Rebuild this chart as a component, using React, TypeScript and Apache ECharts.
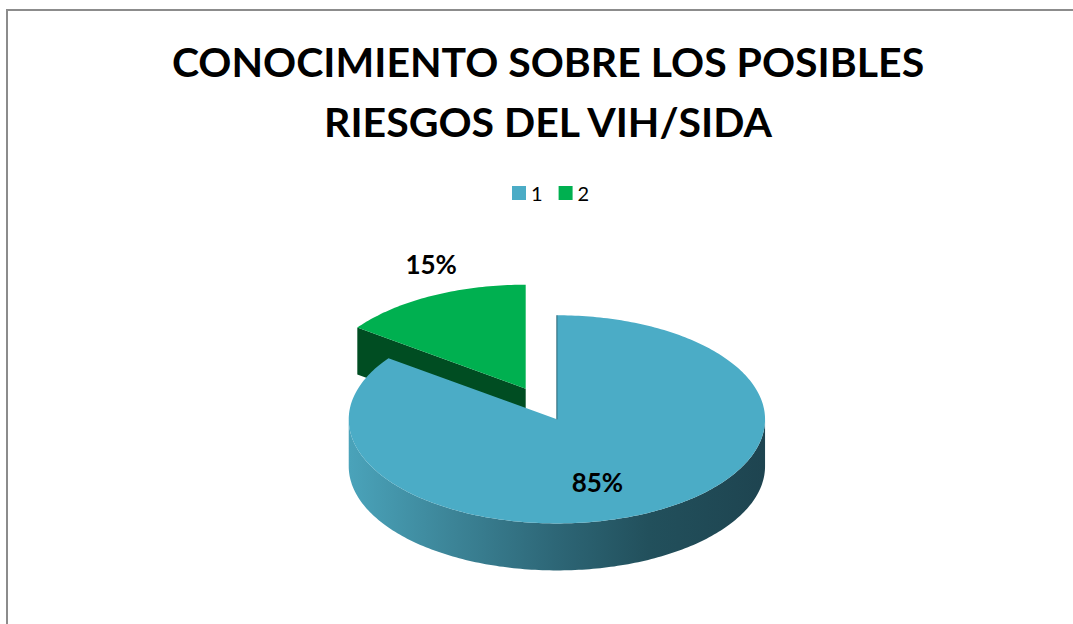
import React, { useEffect, useRef } from "react";
import * as echarts from "echarts";

// ---- data ----
const categories: string[] = ["1", "2"];
const values: number[] = [85, 15];
const titleText = "CONOCIMIENTO SOBRE LOS POSIBLES\nRIESGOS DEL VIH/SIDA";

// ---- styles ----
const topColors = ["#4BACC6", "#00B050"];
const faceColors = ["#2a6373", "#004d22"];
const wallStops = [
  [
    { offset: 0, color: "#4aa3ba" },
    { offset: 0.25, color: "#3c8497" },
    { offset: 0.5, color: "#2d6676" },
    { offset: 0.72, color: "#22505c" },
    { offset: 1, color: "#1e4450" },
  ],
  [
    { offset: 0, color: "#008a3e" },
    { offset: 1, color: "#004d22" },
  ],
];
const explodeFrac = [0, 0.33];
const FONT = "Lato, 'Open Sans', sans-serif";

function makeRender(idx: number) {
  return (params: any, api: any) => {
    const W = api.getWidth();
    const H = api.getHeight();
    const cx = W * 0.519;
    const cy = H * 0.672;
    const rx = W * 0.194;
    const ry = rx * 0.5;
    const depth = 47;
    const total = values.reduce((a, b) => a + b, 0);
    const start = (values.slice(0, idx).reduce((a, b) => a + b, 0) / total) * 360;
    const end = start + (api.value(0) / total) * 360;
    const midRad = (((start + end) / 2) * Math.PI) / 180;
    const ex = explodeFrac[idx];
    const ox = cx + Math.sin(midRad) * rx * ex;
    const oy = cy - Math.cos(midRad) * ry * ex;
    const pt = (deg: number, dz = 0, r = 1) => {
      const a = (deg * Math.PI) / 180;
      return [ox + rx * r * Math.sin(a), oy - ry * r * Math.cos(a) + dz];
    };
    const children: any[] = [];

    // outer side wall (front half only)
    const a0 = Math.max(start, 90);
    const b0 = Math.min(end, 270);
    if (b0 > a0) {
      const pts: number[][] = [];
      for (let d = a0; d <= b0; d += 1) pts.push(pt(d));
      pts.push(pt(b0));
      pts.push(pt(b0, depth));
      for (let d = b0; d >= a0; d -= 1) pts.push(pt(d, depth));
      pts.push(pt(a0, depth));
      children.push({
        type: "polygon",
        shape: { points: pts },
        style: {
          fill: new echarts.graphic.LinearGradient(0, 0, 1, 0, wallStops[idx]),
          stroke: null,
        },
      });
    }

    // radial faces
    const faceAt = (deg: number) => {
      const c = [ox, oy];
      const o = pt(deg);
      return [c, o, [o[0], o[1] + depth], [c[0], c[1] + depth]];
    };
    const sRad = (start * Math.PI) / 180;
    const eRad = (end * Math.PI) / 180;
    if (Math.sin(sRad) < -1e-6) {
      children.push({
        type: "polygon",
        shape: { points: faceAt(start) },
        style: { fill: faceColors[idx] },
      });
    }
    if (Math.sin(eRad) > 1e-6) {
      children.push({
        type: "polygon",
        shape: { points: faceAt(end) },
        style: { fill: faceColors[idx] },
      });
    }

    // top face
    const topPts: number[][] = [[ox, oy]];
    for (let d = start; d < end; d += 1) topPts.push(pt(d));
    topPts.push(pt(end));
    children.push({
      type: "polygon",
      shape: { points: topPts },
      style: { fill: topColors[idx] },
    });

    // thin edge at 12 o'clock start
    if (Math.abs(Math.sin(sRad)) < 1e-6 && idx === 0) {
      const o = pt(start);
      children.push({
        type: "line",
        shape: { x1: ox, y1: oy, x2: o[0], y2: o[1] },
        style: { stroke: faceColors[idx], lineWidth: 1 },
      });
    }

    // label
    const pct = Math.round((api.value(0) / total) * 100) + "%";
    const mid = (start + end) / 2;
    let lp: number[];
    if (ex > 0) {
      const o = pt(mid, 0, 1);
      lp = [o[0], o[1] - 32];
    } else {
      lp = pt(mid + 9, 0, 0.63);
    }
    children.push({
      type: "text",
      x: lp[0],
      y: lp[1],
      style: {
        text: pct,
        fill: "#000",
        font: `bold 26px ${FONT}`,
        align: "center",
        verticalAlign: "middle",
      },
    });

    return { type: "group", children };
  };
}

export default function App() {
  const ref = useRef<HTMLDivElement>(null);
  useEffect(() => {
    document.body.style.margin = "0";
    if (!ref.current) return;
    const chart = echarts.init(ref.current, null, { renderer: "svg" });
    const series = categories.map((name, i) => ({
      type: "custom",
      name,
      coordinateSystem: "none",
      z: i === 0 ? 3 : 2,
      itemStyle: { color: topColors[i] },
      data: [[values[i]]],
      renderItem: makeRender(i),
      silent: true,
    }));
    chart.setOption({
      animation: false,
      backgroundColor: "#ffffff",
      title: {
        text: titleText,
        left: 543,
        textAlign: "center",
        top: 26,
        textStyle: {
          fontFamily: FONT,
          fontWeight: "bold",
          fontSize: 41,
          lineHeight: 60,
          color: "#000",
        },
      },
      legend: {
        data: categories,
        left: 507,
        top: 178,
        icon: "rect",
        itemWidth: 14,
        itemHeight: 14,
        itemGap: 16,
        textStyle: { fontFamily: FONT, fontSize: 20, color: "#000" },
        selectedMode: false,
      },
      graphic: [
        {
          type: "rect",
          shape: { x: 7, y: 10, width: 1200, height: 800 },
          style: { fill: "none", stroke: "#8c8c8c", lineWidth: 2 },
          silent: true,
        },
      ],
      series,
    });
    return () => chart.dispose();
  }, []);
  return <div ref={ref} style={{ width: 1073, height: 624 }} />;
}
